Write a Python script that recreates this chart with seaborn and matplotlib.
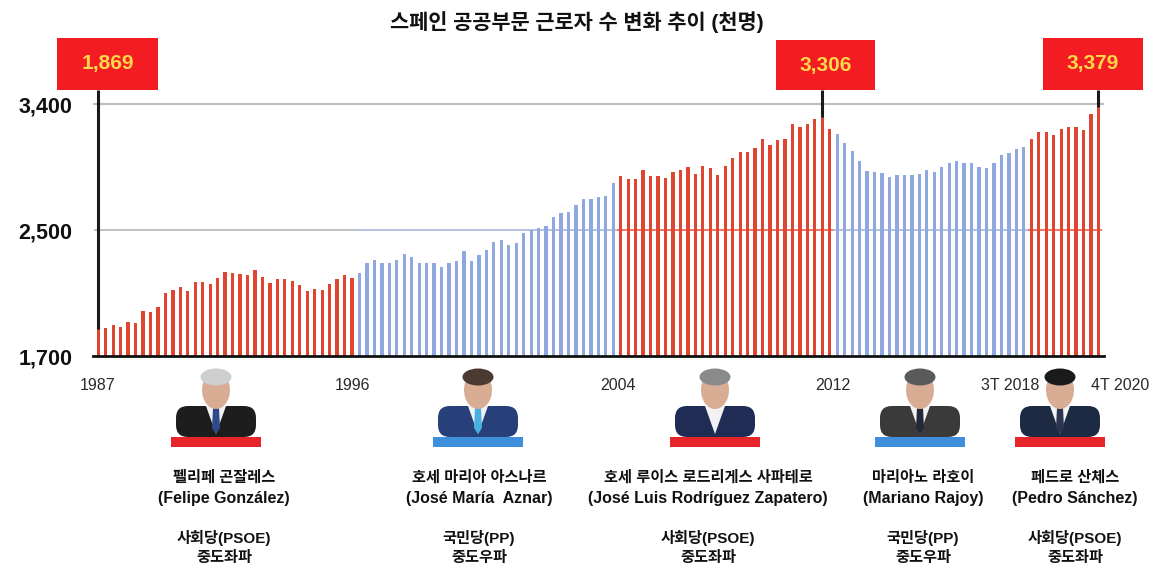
import numpy as np
import matplotlib
matplotlib.use("Agg")
import matplotlib.pyplot as plt
import matplotlib.patches as mpatches
import seaborn as sns

# Spanish public-sector workers, thousands, quarterly (2T 1987 - 4T 2020)
workers = [1869, 1877, 1900, 1883, 1915, 1910, 1986, 1981, 2012, 2103,
           2117, 2138, 2113, 2172, 2172, 2155, 2194, 2232, 2228, 2218,
           2213, 2245, 2201, 2161, 2186, 2191, 2176, 2151, 2115, 2128,
           2117, 2155, 2191, 2213, 2197,
           2226, 2289, 2307, 2291, 2289, 2307, 2345, 2328, 2291, 2291,
           2291, 2268, 2289, 2301, 2364, 2304, 2341, 2370, 2425, 2435,
           2406, 2417, 2479, 2497, 2513, 2529, 2595, 2619, 2631, 2679,
           2719, 2719, 2734, 2746, 2838,
           2886, 2861, 2861, 2929, 2886, 2886, 2874, 2912, 2929, 2952,
           2898, 2959, 2941, 2893, 2957, 3012, 3059, 3059, 3084, 3148,
           3107, 3143, 3150, 3255, 3234, 3257, 3291, 3306, 3219,
           3186, 3119, 3064, 2995, 2919, 2916, 2905, 2881, 2893, 2893,
           2893, 2898, 2929, 2916, 2952, 2976, 2995, 2976, 2976, 2952,
           2941, 2976, 3036, 3052, 3079, 3095,
           3148, 3202, 3202, 3179, 3219, 3238, 3238, 3214, 3329, 3379]

# governments and how many bars each one covers
leaders_kr = ["펠리페 곤잘레스", "호세 마리아 아스나르", "호세 루이스 로드리게스 사파테로",
              "마리아노 라호이", "페드로 산체스"]
leaders_es = ["(Felipe González)", "(José María  Aznar)", "(José Luis Rodríguez Zapatero)",
              "(Mariano Rajoy)", "(Pedro Sánchez)"]
parties = ["사회당(PSOE)", "국민당(PP)", "사회당(PSOE)", "국민당(PP)", "사회당(PSOE)"]
ideology = ["중도좌파", "중도우파", "중도좌파", "중도우파", "중도좌파"]
bars_per_gov = [35, 35, 29, 26, 10]

year_labels = ["1987", "1996", "2004", "2012", "3T 2018", "4T 2020"]
ytick_values = [1700, 2500, 3400]
ytick_labels = ["1,700", "2,500", "3,400"]
callout_idx = [0, 97, 134]

title = "스페인 공공부문 근로자 수 변화 추이 (천명)"

# quarter labels and party of every bar
quarters = []
for k in range(len(workers)):
    q = k + 1
    quarters.append(f"{1987 + q // 4}Q{q % 4 + 1}")
party_of_bar = []
for p, n in zip(parties, bars_per_gov):
    party_of_bar += ["PSOE" if "PSOE" in p else "PP"] * n

RED = "#DF4530"
BLUE = "#8FA9E0"
palette = {"PSOE": RED, "PP": BLUE}

sns.set_theme(style="white")
plt.rcParams["font.family"] = ["Liberation Sans", "Noto Sans CJK KR", "DejaVu Sans"]

W, H = 1154, 588
fig = plt.figure(figsize=(W / 100, H / 100), dpi=100)
ax = fig.add_axes([93 / W, 1 - 356 / H, (1103.7 - 93) / W, (356 - 30) / H])


# the original chart uses uneven spacing between 1,700 / 2,500 / 3,400
def fwd(v):
    v = np.asarray(v, dtype=float)
    return np.where(v <= 2500, (v - 1700) * 126 / 800, 126 + (v - 2500) * 126 / 900)


def inv(u):
    u = np.asarray(u, dtype=float)
    return np.where(u <= 126, 1700 + u * 800 / 126, 2500 + (u - 126) * 900 / 126)


sns.barplot(x=quarters, y=workers, hue=party_of_bar, palette=palette,
            dodge=False, width=0.44, saturation=1, legend=False, ax=ax,
            linewidth=0, zorder=2)

ax.set_yscale("function", functions=(fwd, inv))
ax.set_ylim(1700, float(inv(326)))
ax.set_xlim(-0.7, len(workers) - 0.3)

# grid lines: 3,400 grey, 2,500 tinted per government
ax.axhline(3400, color="#bdbdbd", lw=1.5, zorder=0)
seg_colors = ["#b5b5b5", "#a9b8d8", "#e8604c", "#a9b8d8", "#e8604c"]
start = 0
for n, c in zip(bars_per_gov, seg_colors):
    ax.hlines(2500, start - 0.5, start + n - 0.5, color=c, lw=1.2, zorder=0)
    start += n

for s in ["left", "right", "top"]:
    ax.spines[s].set_visible(False)
ax.spines["bottom"].set_color("#111111")
ax.spines["bottom"].set_linewidth(2)
ax.set_xticks([])
ax.set_xlabel("")
ax.set_yticks(ytick_values)
ax.set_yticklabels(ytick_labels)
ax.yaxis.set_minor_locator(matplotlib.ticker.NullLocator())
ax.tick_params(axis="y", length=0, pad=15, labelsize=15.5, labelcolor="#111111")
for t in ax.get_yticklabels():
    t.set_fontweight("bold")

# leader lines from the highlighted bars up to the boxes
for i in callout_idx:
    ax.vlines(i, workers[i], 3500, color="#1a1a1a", lw=2.2, zorder=3)

# overlay in pixel coordinates for boxes, portraits and captions
ov = fig.add_axes([0, 0, 1, 1], zorder=3)
ov.set_xlim(0, W)
ov.set_ylim(H, 0)
ov.axis("off")
ov.patch.set_alpha(0)

fig.text(0.5, 1 - 22 / H, title, ha="center", va="center",
         fontsize=15, fontweight="bold", color="#111111")

box_rects = [(57, 38, 101, 52), (776, 40, 99, 50), (1043, 38, 100, 52)]
for (bx, by, bw, bh), i in zip(box_rects, callout_idx):
    ov.add_patch(mpatches.Rectangle((bx, by), bw, bh, color="#F21C22", lw=0))
    ov.text(bx + bw / 2, by + bh / 2, f"{workers[i]:,}", ha="center", va="center",
            fontsize=15, fontweight="bold", color="#FFD84A")

year_x = [98, 352, 618, 833, 1010, 1120]
for lab, x in zip(year_labels, year_x):
    ov.text(x, 386, lab, ha="center", va="center", fontsize=11.5,
            color="#2a2a2a", family=["Liberation Sans Narrow", "Liberation Sans"])

# simple busts standing in for the photos
centers = [216, 478, 715, 920, 1060]
bar_colors = ["#E8242B", "#3D8EDB", "#E8242B", "#3D8EDB", "#E8242B"]
suits = ["#1d1d1d", "#27407a", "#1f2d55", "#3a3a3a", "#1d2a44"]
hair = ["#cfcfcf", "#4a3a30", "#8a8a8a", "#5a5a5a", "#1a1a1a"]
ties = ["#2e4a8a", "#4ab0e0", None, "#222a3a", "#2b3550"]
skin = "#d8ad94"
for cx, bc, sc, hc, tc in zip(centers, bar_colors, suits, hair, ties):
    ov.add_patch(mpatches.FancyBboxPatch((cx - 40, 406), 80, 31,
                                         boxstyle="round,pad=0,rounding_size=12",
                                         fc=sc, ec="none"))
    ov.add_patch(mpatches.Rectangle((cx - 7, 398), 14, 12, fc=skin, ec="none"))
    ov.add_patch(mpatches.Polygon([(cx - 10, 406), (cx + 10, 406), (cx, 434)],
                                  fc="#f2f2f2", ec="none"))
    if tc:
        ov.add_patch(mpatches.Polygon([(cx - 3, 408), (cx + 3, 408), (cx + 4, 428),
                                       (cx, 434), (cx - 4, 428)], fc=tc, ec="none"))
    ov.add_patch(mpatches.Ellipse((cx, 390), 28, 38, fc=skin, ec="none"))
    ov.add_patch(mpatches.Ellipse((cx, 377), 31, 17, fc=hc, ec="none"))
    ov.add_patch(mpatches.Rectangle((cx - 45, 437), 90, 10, fc=bc, ec="none"))

text_x = [224, 479, 708, 923, 1075]
for x, kr, es, p, ide in zip(text_x, leaders_kr, leaders_es, parties, ideology):
    ov.text(x, 478, kr, ha="center", va="center", fontsize=11, fontweight="bold", color="#111111")
    ov.text(x, 499, es, ha="center", va="center", fontsize=11.5, fontweight="bold", color="#111111")
    ov.text(x, 538, p, ha="center", va="center", fontsize=11, fontweight="bold", color="#111111")
    ov.text(x, 558, ide, ha="center", va="center", fontsize=11, fontweight="bold", color="#111111")

fig.savefig("out.png", dpi=100)
